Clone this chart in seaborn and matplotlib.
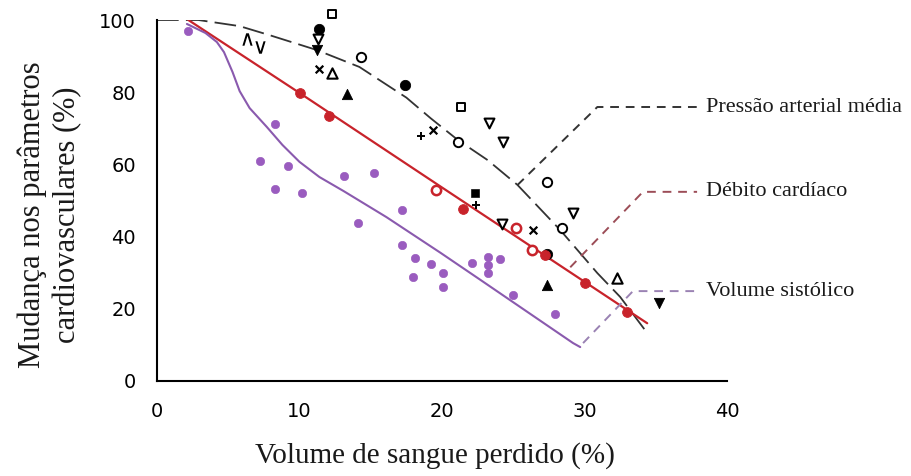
import matplotlib
matplotlib.use("Agg")
import matplotlib.pyplot as plt
import seaborn as sns

# curvas (volume perdido %, mudança %)
pam_curve_x = [0.0, 2.9, 5.8, 7.9, 11.2, 14.2, 17.5, 19.2, 21.1, 23.2, 25.3, 28.3, 30.9, 32.5, 34.4]
pam_curve_y = [100, 100, 98.3, 95.8, 91.7, 87.0, 78.5, 72.8, 66.8, 61.2, 54.3, 41.8, 29.9, 23.3, 13.3]

dc_curve_x = [2.2, 10.0, 20.0, 30.0, 34.4]
dc_curve_y = [100, 79.8, 53.6, 27.5, 16.0]

vs_curve_x = [2.1, 3.4, 4.2, 4.7, 5.3, 5.8, 6.5, 7.7, 8.8, 10.0, 11.4, 13.1, 16.1, 19.9, 22.7, 29.2, 29.7]
vs_curve_y = [98.9, 96.4, 93.9, 91.1, 85.6, 80.3, 75.6, 70.4, 65.4, 60.7, 56.5, 52.6, 45.4, 35.5, 28.0, 10.5, 9.4]

# pontos da pressão arterial média (vários símbolos)
pam_pts_x = [12.3, 11.4, 11.3, 11.2, 6.3, 7.2, 14.3, 11.4, 12.3, 13.3, 17.4, 18.5, 19.4, 21.1,
             21.3, 23.3, 24.3, 27.4, 22.3, 22.4, 24.2, 26.4, 28.4, 29.2, 27.4, 27.4, 32.3, 35.2]
pam_pts_y = [101.7, 97.5, 94.7, 91.7, 94.7, 92.5, 89.7, 86.4, 85.4, 79.5, 82.0, 67.9, 69.5, 66.2,
             75.9, 71.5, 66.2, 55.1, 52.1, 48.8, 43.5, 41.8, 42.4, 46.5, 35.2, 26.6, 28.5, 21.6]
pam_pts_kind = ["sq_open", "circ", "dtri_open", "dtri", "caret_up", "caret_dn", "circ_open", "x",
                "tri_open", "tri", "circ", "plus", "x", "circ_open",
                "sq_open", "dtri_open", "dtri_open", "circ_open", "sq", "plus", "dtri_open", "x",
                "circ_open", "dtri_open", "circ", "tri", "tri_open", "dtri"]

# pontos do débito cardíaco
dc_pts_x = [10.0, 12.1, 19.6, 21.5, 25.2, 26.3, 27.2, 30.0, 33.0]
dc_pts_y = [79.8, 73.4, 52.9, 47.6, 42.4, 36.3, 34.9, 27.1, 19.1]
dc_pts_open = [False, False, True, False, True, True, False, False, False]

# pontos do volume sistólico
vs_pts_x = [2.2, 8.3, 7.2, 9.2, 8.3, 10.2, 13.1, 15.2, 14.1, 17.2, 17.2, 18.1, 19.2, 18.0,
            20.1, 20.1, 22.1, 23.2, 23.2, 23.2, 24.1, 25.0, 27.9]
vs_pts_y = [97.0, 71.2, 60.9, 59.6, 53.2, 52.1, 56.8, 57.6, 43.8, 47.4, 37.7, 34.1, 32.4, 28.8,
            29.9, 26.0, 32.7, 34.4, 32.0, 29.9, 33.8, 23.8, 18.6]

labels = ["Pressão arterial média", "Débito cardíaco", "Volume sistólico"]
x_ticks = [0, 10, 20, 30, 40]
y_ticks = [0, 20, 40, 60, 80, 100]

RED = "#c8232b"
PURPLE = "#9a5cbf"
DARK = "#333333"

sns.set_style("white")
plt.rcParams["font.family"] = ["Liberation Serif", "DejaVu Serif"]

fig = plt.figure(figsize=(9.12, 4.76), dpi=100)
ax = fig.add_axes([157 / 912, 95 / 476, 570 / 912, 361 / 476])

# curvas
sns.lineplot(x=pam_curve_x, y=pam_curve_y, sort=False, estimator=None, ax=ax,
             color=DARK, lw=1.3, linestyle=(0, (12, 4)))
sns.lineplot(x=dc_curve_x, y=dc_curve_y, sort=False, estimator=None, ax=ax,
             color=RED, lw=1.6)
sns.lineplot(x=vs_curve_x, y=vs_curve_y, sort=False, estimator=None, ax=ax,
             color="#8a5aae", lw=1.5)

# símbolos da pressão arterial
styles = {
    "circ": dict(marker="o", s=55, facecolor="black", edgecolor="black"),
    "circ_open": dict(marker="o", s=45, facecolor="white", edgecolor="black", linewidth=1.4),
    "sq": dict(marker="s", s=30, facecolor="black", edgecolor="black"),
    "sq_open": dict(marker="s", s=28, facecolor="white", edgecolor="black", linewidth=1.4),
    "tri": dict(marker="^", s=55, facecolor="black", edgecolor="black"),
    "tri_open": dict(marker="^", s=55, facecolor="white", edgecolor="black", linewidth=1.5),
    "dtri": dict(marker="v", s=55, facecolor="black", edgecolor="black"),
    "dtri_open": dict(marker="v", s=50, facecolor="white", edgecolor="black", linewidth=1.5),
    "x": dict(marker="x", s=30, color="black", linewidth=1.6),
    "plus": dict(marker="+", s=28, color="black", linewidth=1.4),
    "caret_up": dict(marker=r"$\wedge$", s=80, color="black", linewidth=0),
    "caret_dn": dict(marker=r"$\vee$", s=80, color="black", linewidth=0),
}
for kind, kws in styles.items():
    xs = [x for x, k in zip(pam_pts_x, pam_pts_kind) if k == kind]
    ys = [y for y, k in zip(pam_pts_y, pam_pts_kind) if k == kind]
    if xs:
        sns.scatterplot(x=xs, y=ys, ax=ax, clip_on=False, zorder=4, legend=False, **kws)

# débito cardíaco
xs_f = [x for x, o in zip(dc_pts_x, dc_pts_open) if not o]
ys_f = [y for y, o in zip(dc_pts_y, dc_pts_open) if not o]
xs_o = [x for x, o in zip(dc_pts_x, dc_pts_open) if o]
ys_o = [y for y, o in zip(dc_pts_y, dc_pts_open) if o]
sns.scatterplot(x=xs_f, y=ys_f, ax=ax, marker="o", s=50, facecolor=RED, edgecolor=RED, zorder=5)
sns.scatterplot(x=xs_o, y=ys_o, ax=ax, marker="o", s=45, facecolor="white", edgecolor=RED,
                linewidth=1.8, zorder=5)

# volume sistólico
sns.scatterplot(x=vs_pts_x, y=vs_pts_y, ax=ax, marker="o", s=36, facecolor=PURPLE,
                edgecolor=PURPLE, zorder=4)

# linhas de chamada
leaders = [
    ((25.3, 54.3), (30.9, 75.9), DARK),
    ((29.0, 31.5), (34.1, 52.4), "#9c4d57"),
    ((29.9, 10.5), (33.4, 24.9), "#9a82b3"),
]
for label, (start, elbow, col) in zip(labels, leaders):
    ax.plot([start[0], elbow[0], 37.9], [start[1], elbow[1], elbow[1]], color=col, lw=1.4,
            linestyle=(0, (4.5, 3.5)), clip_on=False, zorder=2)
    ax.text(38.5, elbow[1], label, fontsize=16, color="#1a1a1a", va="center", ha="left",
            clip_on=False)

ax.set_xlim(0, 40)
ax.set_ylim(0, 100)
ax.set_xticks(x_ticks)
ax.set_yticks(y_ticks)
sns.despine(ax=ax)
for side in ["left", "bottom"]:
    ax.spines[side].set_linewidth(1.5)
    ax.spines[side].set_color("black")
ax.tick_params(axis="both", colors="black", width=1.5, length=11, direction="out",
               labelsize=14, pad=4)
for lab in ax.get_xticklabels() + ax.get_yticklabels():
    lab.set_family("DejaVu Sans")

fig.text(435 / 912, 1 - 456 / 476, "Volume de sangue perdido (%)", fontsize=21,
         ha="center", va="center", color="#1a1a1a")
fig.text(50 / 912, 1 - 215 / 476, "Mudança nos parâmetros\ncardiovasculares (%)", fontsize=22,
         ha="center", va="center", rotation=90, multialignment="center", linespacing=1.25,
         color="#1a1a1a")

fig.savefig("out.png", dpi=100)
